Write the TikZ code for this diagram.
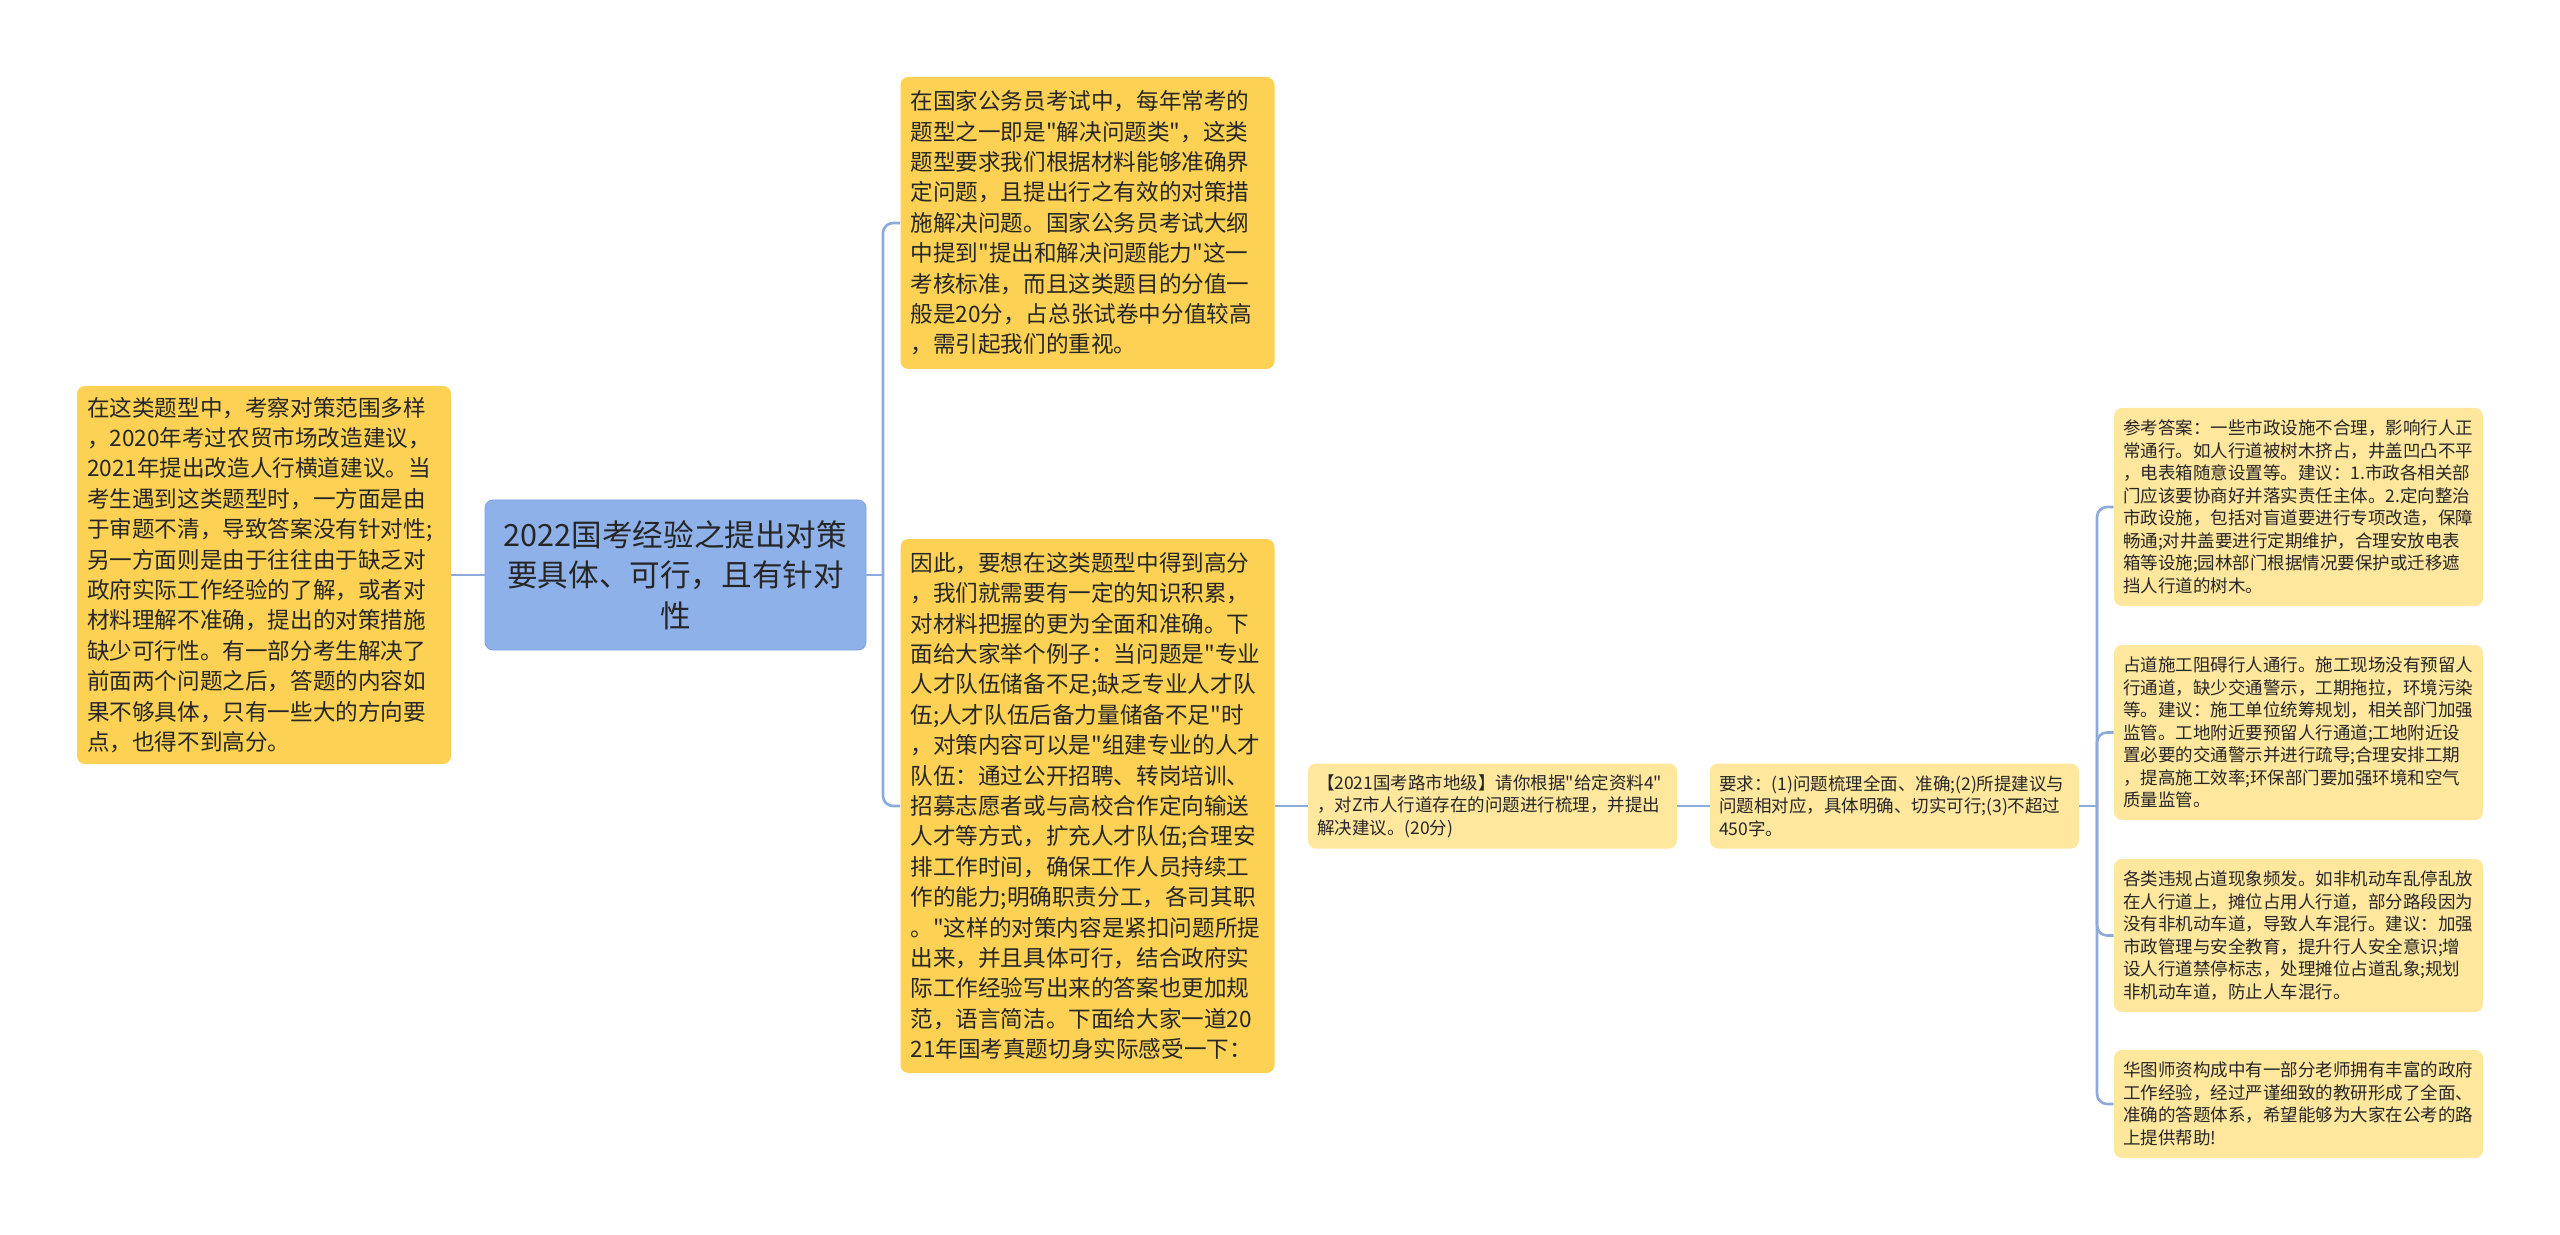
\documentclass[tikz,border=0pt]{standalone}
\usepackage{fontspec}
\setmainfont{Noto Sans CJK SC}[Ligatures=TeXOff]
\definecolor{deepyellow}{RGB}{253,210,84}
\definecolor{paleyellow}{RGB}{255,231,158}
\definecolor{topicblue}{RGB}{143,177,233}
\definecolor{topicedge}{RGB}{125,160,222}
\definecolor{linkblue}{RGB}{142,170,219}
\definecolor{inkgray}{RGB}{38,38,38}

\begin{document}
\begin{tikzpicture}[x=0.5pt,y=-0.5pt,
   box/.style={rectangle,rounded corners=4pt,inner xsep=5pt,inner ysep=3pt,
      align=left,text=inkgray},
   mainbox/.style={box,fill=deepyellow,text width=177pt,minimum width=187pt,
      font=\fontsize{11.3pt}{15.2pt}\selectfont},
   smallbox/.style={box,fill=paleyellow,inner xsep=4.5pt,text width=175.5pt,
      minimum width=184.5pt,font=\fontsize{8.75pt}{11.25pt}\selectfont},
   topic/.style={box,fill=topicblue,draw=topicedge,line width=0.4pt,align=center,
      text width=180pt,minimum width=190.5pt,minimum height=75pt,
      font=\fontsize{15.3pt}{20.3pt}\selectfont},
   link/.style={draw=linkblue,line width=1.3pt,rounded corners=5pt}]
\fill[white] (0,0) rectangle (2560,1235);
\useasboundingbox (0,0) rectangle (2560,1235);

\node[topic] (root) at (675.5,575) {2022国考经验之提出对策\\要具体、可行，且有针对\\性};

\node[mainbox,minimum height=189pt] (reason) at (264,575) {在这类题型中，考察对策范围多样\\，2020年考过农贸市场改造建议，\\2021年提出改造人行横道建议。当\\考生遇到这类题型时，一方面是由\\于审题不清，导致答案没有针对性;\\另一方面则是由于往往由于缺乏对\\政府实际工作经验的了解，或者对\\材料理解不准确，提出的对策措施\\缺少可行性。有一部分考生解决了\\前面两个问题之后，答题的内容如\\果不够具体，只有一些大的方向要\\点，也得不到高分。};

\node[mainbox,minimum height=146pt] (intro) at (1087.5,223) {在国家公务员考试中，每年常考的\\题型之一即是"解决问题类"，这类\\题型要求我们根据材料能够准确界\\定问题，且提出行之有效的对策措\\施解决问题。国家公务员考试大纲\\中提到"提出和解决问题能力"这一\\考核标准，而且这类题目的分值一\\般是20分，占总张试卷中分值较高\\，需引起我们的重视。};

\node[mainbox,minimum height=267pt] (example) at (1087.5,806) {因此，要想在这类题型中得到高分\\，我们就需要有一定的知识积累，\\对材料把握的更为全面和准确。下\\面给大家举个例子：当问题是"专业\\人才队伍储备不足;缺乏专业人才队\\伍;人才队伍后备力量储备不足"时\\，对策内容可以是"组建专业的人才\\队伍：通过公开招聘、转岗培训、\\招募志愿者或与高校合作定向输送\\人才等方式，扩充人才队伍;合理安\\排工作时间，确保工作人员持续工\\作的能力;明确职责分工，各司其职\\。"这样的对策内容是紧扣问题所提\\出来，并且具体可行，结合政府实\\际工作经验写出来的答案也更加规\\范，语言简洁。下面给大家一道20\\21年国考真题切身实际感受一下：};

\node[smallbox,minimum height=42.5pt] (question) at (1492.5,806) {【2021国考路市地级】请你根据"给定资料4"\\，对Z市人行道存在的问题进行梳理，并提出\\解决建议。(20分)};

\node[smallbox,minimum height=42.5pt] (demand) at (1894.5,806) {要求：(1)问题梳理全面、准确;(2)所提建议与\\问题相对应，具体明确、切实可行;(3)不超过\\450字。};

\node[smallbox,minimum height=99pt] (answerA) at (2298.5,507) {参考答案：一些市政设施不合理，影响行人正\\常通行。如人行道被树木挤占，井盖凹凸不平\\，电表箱随意设置等。建议：1.市政各相关部\\门应该要协商好并落实责任主体。2.定向整治\\市政设施，包括对盲道要进行专项改造，保障\\畅通;对井盖要进行定期维护，合理安放电表\\箱等设施;园林部门根据情况要保护或迁移遮\\挡人行道的树木。};

\node[smallbox,minimum height=87.5pt] (answerB) at (2298.5,732.5) {占道施工阻碍行人通行。施工现场没有预留人\\行通道，缺少交通警示，工期拖拉，环境污染\\等。建议：施工单位统筹规划，相关部门加强\\监管。工地附近要预留人行通道;工地附近设\\置必要的交通警示并进行疏导;合理安排工期\\，提高施工效率;环保部门要加强环境和空气\\质量监管。};

\node[smallbox,minimum height=76.5pt] (answerC) at (2298.5,935.5) {各类违规占道现象频发。如非机动车乱停乱放\\在人行道上，摊位占用人行道，部分路段因为\\没有非机动车道，导致人车混行。建议：加强\\市政管理与安全教育，提升行人安全意识;增\\设人行道禁停标志，处理摊位占道乱象;规划\\非机动车道，防止人车混行。};

\node[smallbox,minimum height=54pt] (answerD) at (2298.5,1104) {华图师资构成中有一部分老师拥有丰富的政府\\工作经验，经过严谨细致的教研形成了全面、\\准确的答题体系，希望能够为大家在公考的路\\上提供帮助!};

\coordinate (rootfork) at (883,575);
\coordinate (demandfork) at (2097,806);

\draw[link] (root.west) -- (reason.east);
\draw[link] (root.east) -- (rootfork);
\draw[link] (rootfork) |- (intro.west);
\draw[link] (rootfork) |- (example.west);
\draw[link] (example.east) -- (question.west);
\draw[link] (question.east) -- (demand.west);
\draw[link] (demand.east) -- (demandfork);
\foreach \leaf in {answerA,answerB,answerC,answerD}
   \draw[link] (demandfork) |- (\leaf.west);
\end{tikzpicture}
\end{document}
